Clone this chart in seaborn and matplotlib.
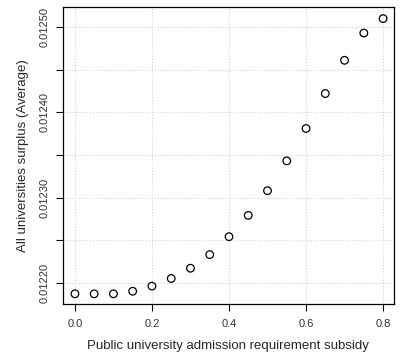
import numpy as np
import pandas as pd
import matplotlib
matplotlib.use("Agg")
import matplotlib.pyplot as plt
import seaborn as sns
from matplotlib.ticker import MultipleLocator, FuncFormatter

# --- data ---
subsidy = [0.0, 0.05, 0.1, 0.15, 0.2, 0.25, 0.3, 0.35, 0.4, 0.45,
           0.5, 0.55, 0.6, 0.65, 0.7, 0.75, 0.8]
surplus = [0.012187, 0.012187, 0.012187, 0.012190, 0.012196, 0.012205,
           0.012217, 0.012233, 0.012254, 0.012279, 0.012308, 0.012343,
           0.012381, 0.012422, 0.012461, 0.012493, 0.012510]

df = pd.DataFrame({"subsidy": subsidy, "surplus": surplus})

sns.set_style("white")
plt.rcParams["font.family"] = ["Liberation Sans", "DejaVu Sans"]

fig = plt.figure(figsize=(4.09, 3.56), dpi=100)
ax = fig.add_axes([0.153, 0.146, 0.810, 0.833])

sns.scatterplot(data=df, x="subsidy", y="surplus", ax=ax, marker="o", s=30,
                facecolor="none", edgecolor="black", linewidth=0.9, zorder=3)

ax.set_xlim(-0.032, 0.828)
ax.set_ylim(0.012175, 0.012523)

ax.xaxis.set_major_locator(MultipleLocator(0.2))
ax.xaxis.set_major_formatter(FuncFormatter(lambda v, p: f"{v:.1f}"))
ax.yaxis.set_major_locator(MultipleLocator(0.00005))

def ylab(v, p):
    # R drops every other label where they would overlap
    k = int(round(v / 0.00005))
    return f"{v:.5f}" if k % 2 == 0 else ""

ax.yaxis.set_major_formatter(FuncFormatter(ylab))
ax.tick_params(axis="y", labelrotation=90, pad=4)
plt.setp(ax.get_yticklabels(), va="center")

ax.tick_params(direction="out", length=5, width=0.8, colors="black",
               labelsize=8, labelcolor="#333333", left=True, bottom=True)
ax.tick_params(axis="x", pad=6)
ax.grid(True, color="#d3d3d3", linestyle=":", linewidth=0.8)

for s in ax.spines.values():
    s.set_color("black")
    s.set_linewidth(0.9)

ax.set_xlabel("Public university admission requirement subsidy", fontsize=9.5, labelpad=8)
ax.set_ylabel("All universities surplus (Average)", fontsize=9.5, labelpad=8)

fig.savefig("out.png", dpi=100)
